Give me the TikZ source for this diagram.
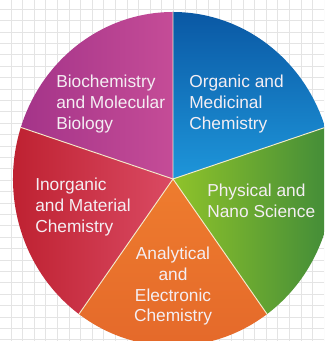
\documentclass[tikz,border=0pt]{standalone}
\usepackage{fontspec}
\setmainfont{Liberation Sans}
\usetikzlibrary{calc}
\definecolor{gridgray}{HTML}{E4E4E4}
\definecolor{labeltext}{HTML}{F4EEF3}
\definecolor{sepline}{HTML}{F3EBCB}
\begin{document}
\begin{tikzpicture}[x=0.75pt,y=0.75pt,
		label node/.style = {text=labeltext, inner sep=0pt, font=\fontsize{13}{15.5}\selectfont},
		grid line/.style = {draw=gridgray, line width=0.6pt},
		sep line/.style = {draw=sepline, line width=0.7pt}]
	
	\useasboundingbox (0,0) rectangle (324,341);
	\clip (0,0) rectangle (324,341);
	\fill[white] (0,0) rectangle (324,341);
	\foreach \i in {0,...,27} \draw[grid line] (11+11.6*\i,0) -- (11+11.6*\i,341);
	\foreach \j in {0,...,29} \draw[grid line] (0,331.7-11.4*\j) -- (324,331.7-11.4*\j);
	
	\coordinate (c) at (173,162);
	\coordinate (p1) at ($(c)+(90:160 and 167)$);
	\coordinate (p2) at ($(c)+(18:160 and 167)$);
	\coordinate (p3) at ($(c)+(-54:160 and 167)$);
	\coordinate (p4) at ($(c)+(-126:160 and 167)$);
	\coordinate (p5) at ($(c)+(162:160 and 167)$);
	
	% sectors
	\shade[left color={rgb,255:red,164;green,52;blue,137}, right color={rgb,255:red,197;green,76;blue,151}]
		(c) -- (p1) arc[start angle=90, end angle=162, x radius=160, y radius=167] -- cycle;
	\shade[top color={rgb,255:red,10;green,88;blue,164}, bottom color={rgb,255:red,30;green,150;blue,218}]
		(c) -- (p2) arc[start angle=18, end angle=90, x radius=160, y radius=167] -- cycle;
	\shade[left color={rgb,255:red,143;green,195;blue,42}, right color={rgb,255:red,58;green,134;blue,58}]
		(c) -- (p3) arc[start angle=-54, end angle=18, x radius=160, y radius=167] -- cycle;
	\shade[top color={rgb,255:red,238;green,124;blue,46}, bottom color={rgb,255:red,228;green,104;blue,42}]
		(c) -- (p4) arc[start angle=-126, end angle=-54, x radius=160, y radius=167] -- cycle;
	\shade[left color={rgb,255:red,188;green,30;blue,45}, right color={rgb,255:red,218;green,74;blue,99}]
		(c) -- (p5) arc[start angle=162, end angle=234, x radius=160, y radius=167] -- cycle;
	
	\draw[sep line] (p1) -- (c) -- (p2);
	\draw[sep line] (p3) -- (c) -- (p4);
	\draw[sep line] (c) -- (p5);
	
	% labels
	\node[label node, anchor=west, align=left] (bio) at (56,237) {Biochemistry\\and Molecular\\Biology};
	\node[label node, anchor=west, align=left] (org) at (189,237) {Organic and\\Medicinal\\Chemistry};
	\node[label node, anchor=west, align=left] (inorg) at (35,134) {Inorganic\\and Material\\Chemistry};
	\node[label node, anchor=west, align=left] (phys) at (207,140.5) {Physical and\\Nano Science};
	\node[label node, align=center] (anal) at (173,54.5) {Analytical\\and\\Electronic\\Chemistry};
\end{tikzpicture}
\end{document}
